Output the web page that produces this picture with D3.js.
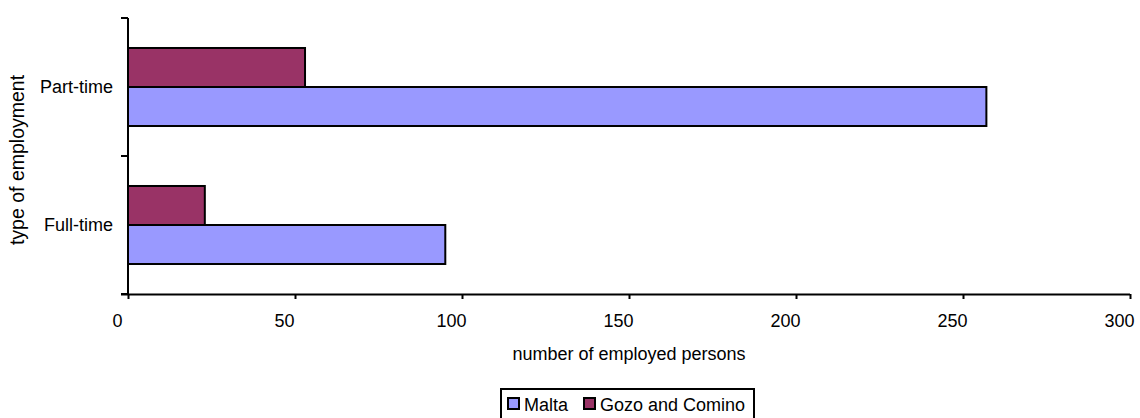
<!DOCTYPE html>
<html>
<head>
<meta charset="utf-8">
<script src="https://cdn.jsdelivr.net/npm/d3@7"></script>
<style>
  body { margin: 0; background: #fff; }
  svg { display: block; font-family: "Liberation Sans", Arial, sans-serif; }
</style>
</head>
<body>
<svg id="chart" width="1140" height="418"></svg>
<script>
const categories = ["Part-time", "Full-time"];
const seriesNames = ["Malta", "Gozo and Comino"];
const maltaValues = [257, 95];
const gozoValues = [53, 23];
const xTicks = [0, 50, 100, 150, 200, 250, 300];
const colors = { "Malta": "#9999FF", "Gozo and Comino": "#993366" };

const FS = 18;
const svg = d3.select("#chart");
const margin = { left: 128, right: 10, top: 18, bottom: 124 };
const W = 1140, H = 418;

const x = d3.scaleLinear().domain([0, 300]).range([margin.left, W - margin.right]);
const y = d3.scaleBand().domain(categories).range([margin.top, H - margin.bottom]).padding(0);
const inner = d3.scaleBand().domain(["Gozo and Comino", "Malta"]).range([0, y.bandwidth()])
  .paddingInner(0).paddingOuter(0.769);

const data = categories.map((c, i) => ({
  cat: c,
  vals: [{ s: "Gozo and Comino", v: gozoValues[i] }, { s: "Malta", v: maltaValues[i] }]
}));

// bars
const g = svg.append("g");
data.forEach(d => {
  d.vals.forEach(b => {
    g.append("rect")
      .attr("x", x(0))
      .attr("y", y(d.cat) + inner(b.s))
      .attr("width", x(b.v) - x(0))
      .attr("height", inner.bandwidth())
      .attr("fill", colors[b.s])
      .attr("stroke", "#000")
      .attr("stroke-width", 2);
  });
});

// x axis
const xAxis = d3.axisBottom(x).tickValues(xTicks).tickSize(5).tickPadding(15).tickFormat(d3.format("d"));
const xg = svg.append("g").attr("transform", `translate(0,${H - margin.bottom})`).call(xAxis);
xg.select(".domain").attr("stroke", "#000").attr("stroke-width", 2).attr("d", `M${x(0) - 7},0.5H${x(300)}`);
xg.selectAll(".tick line").attr("stroke", "#000").attr("stroke-width", 2);
xg.selectAll(".tick text").attr("font-size", FS).attr("fill", "#000")
  .attr("font-family", "Liberation Sans, Arial, sans-serif").attr("dx", -11);

// y axis line
svg.append("line")
  .attr("x1", x(0)).attr("x2", x(0))
  .attr("y1", margin.top).attr("y2", H - margin.bottom)
  .attr("stroke", "#000").attr("stroke-width", 2);

// y tick marks at band boundaries
const bounds = [y(categories[0])].concat(categories.map(c => y(c) + y.bandwidth()));
svg.selectAll(".ytick").data(bounds).enter().append("line")
  .attr("x1", x(0) - 7).attr("x2", x(0))
  .attr("y1", d => d).attr("y2", d => d)
  .attr("stroke", "#000").attr("stroke-width", 2);

// y labels
svg.selectAll(".ylab").data(categories).enter().append("text")
  .attr("x", x(0) - 15)
  .attr("y", d => y(d) + y.bandwidth() / 2)
  .attr("dy", "0.35em")
  .attr("text-anchor", "end")
  .attr("font-size", FS)
  .attr("fill", "#000")
  .text(d => d);

// axis titles
svg.append("text")
  .attr("x", 629)
  .attr("y", 360)
  .attr("text-anchor", "middle")
  .attr("font-size", FS)
  .attr("fill", "#000")
  .text("number of employed persons");

svg.append("text")
  .attr("transform", `translate(24,160) rotate(-90)`)
  .attr("text-anchor", "middle")
  .attr("font-size", 19.5)
  .attr("fill", "#000")
  .text("type of employment");

// legend
const lg = svg.append("g");
lg.append("rect").attr("x", 501).attr("y", 389).attr("width", 253).attr("height", 40)
  .attr("fill", "#fff").attr("stroke", "#000").attr("stroke-width", 2);
const legendItems = [{ s: "Malta", x: 507 }, { s: "Gozo and Comino", x: 583 }];
legendItems.forEach(it => {
  lg.append("rect").attr("x", it.x + 1).attr("y", 398).attr("width", 11).attr("height", 11)
    .attr("fill", colors[it.s]).attr("stroke", "#000").attr("stroke-width", 2);
  lg.append("text").attr("x", it.x + 17).attr("y", 411)
    .attr("font-size", FS).attr("fill", "#000").text(it.s);
});
</script>
</body>
</html>
